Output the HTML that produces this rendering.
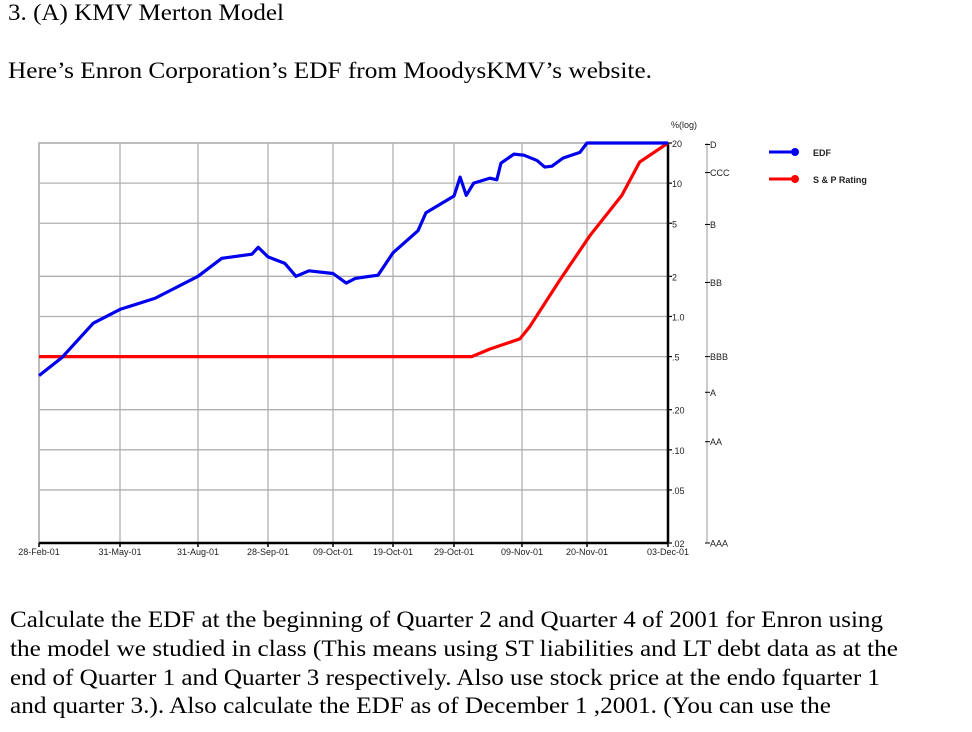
<!DOCTYPE html>
<html><head><meta charset="utf-8"><style>
body{margin:0;background:#fff}
svg{display:block}
.t{font-family:"Liberation Serif",serif;font-size:23px;fill:#000}
.s{font-family:"Liberation Sans",sans-serif;font-size:9px;fill:#222}
</style></head><body>
<svg id="root" width="972" height="732" viewBox="0 0 972 732">
<text class="t" x="8" y="20" textLength="276" lengthAdjust="spacingAndGlyphs">3. (A) KMV Merton Model</text>
<text class="t" x="8" y="78" font-size="24" textLength="644" lengthAdjust="spacingAndGlyphs">Here’s Enron Corporation’s EDF from MoodysKMV’s website.</text>
<g id="chart"></g>
<text class="t" x="10" y="627" textLength="873" lengthAdjust="spacingAndGlyphs">Calculate the EDF at the beginning of Quarter 2 and Quarter 4 of 2001 for Enron using</text>
<text class="t" x="10" y="656" textLength="888" lengthAdjust="spacingAndGlyphs">the model we studied in class (This means using ST liabilities and LT debt  data as at the</text>
<text class="t" x="10" y="685" textLength="870" lengthAdjust="spacingAndGlyphs">end of Quarter 1 and Quarter 3 respectively. Also use stock price at the endo fquarter 1</text>
<text class="t" x="10" y="713" textLength="821" lengthAdjust="spacingAndGlyphs">and quarter 3.). Also calculate the EDF as of December 1 ,2001. (You can use the</text>
</svg>
<script>
const xLabels = ["28-Feb-01","31-May-01","31-Aug-01","28-Sep-01","09-Oct-01","19-Oct-01","29-Oct-01","09-Nov-01","20-Nov-01","03-Dec-01"];
const yTicks = [20,10,5,2,1.0,0.5,0.2,0.1,0.05,0.02];
const yTickLabels = ["20","10","5","2","1.0",".5",".20",".10",".05",".02"];
const ratingLabels = ["D","CCC","B","BB","BBB","A","AA","AAA"];
const ratingValues = [19.5,12,4.9,1.8,0.5,0.27,0.115,0.02];
const edfX = [0,0.28,0.67,1,1.45,2,2.34,2.77,2.86,3,3.26,3.43,3.63,4,4.22,4.37,4.75,5,5.41,5.54,6,6.09,6.18,6.29,6.53,6.63,6.69,6.88,7.03,7.23,7.35,7.46,7.63,7.89,8,9];
const edfY = [0.36,0.49,0.89,1.13,1.37,2.0,2.73,2.93,3.3,2.8,2.5,2.0,2.2,2.1,1.78,1.93,2.04,3.0,4.4,6.0,8.0,11.1,8.1,10,10.9,10.6,14.1,16.5,16.2,14.8,13.2,13.4,15.4,17,20,20];
const spX = [0,6.26,6.53,6.97,7.12,7.58,8.04,8.43,8.65,9];
const spY = [0.5,0.5,0.57,0.68,0.84,1.87,4.07,8.1,14.4,20];

const NS="http://www.w3.org/2000/svg";
const g=document.getElementById('chart');
const L=39,R=668,T=143,B=543;
const tickPx=[39,120,198,268,333,393,454,522,587,668]; // layout of category ticks
function xs(i){const k=Math.min(Math.floor(i),tickPx.length-2);return tickPx[k]+(tickPx[k+1]-tickPx[k])*(i-k);}
function ys(v){return T+(B-T)*Math.log10(20/v)/Math.log10(1000);}
function mk(tag,attrs,parent){const e=document.createElementNS(NS,tag);for(const k in attrs)e.setAttribute(k,attrs[k]);(parent||g).appendChild(e);return e;}

mk('rect',{x:L,y:T,width:R-L,height:B-T,fill:'#fff',stroke:'#aaa','stroke-width':1.5});
xLabels.forEach((lab,i)=>{
  const x=xs(i);
  const l=mk('line',{x1:x,y1:T,x2:x,y2:B,stroke:'#b0b0b0','stroke-width':1.3});
  
  
  mk('line',{x1:x,y1:B,x2:x,y2:B+4,stroke:'#000','stroke-width':1.5});
  const t=mk('text',{x:x,y:B+12,'text-anchor':'middle',class:'s'});
  t.textContent=lab;
  
  
});
yTicks.forEach((v,i)=>{
  const y=ys(v);
  const l=mk('line',{x1:L,y1:y,x2:R,y2:y,stroke:'#b0b0b0','stroke-width':1.3});
  
  
  mk('line',{x1:R,y1:y,x2:R+4,y2:y,stroke:'#000','stroke-width':1.2});
  const t=mk('text',{x:R+4,y:y+4,class:'s','font-size':10});
  t.textContent=yTickLabels[i];
  
  
});
mk('line',{x1:L,y1:B,x2:R,y2:B,stroke:'#000','stroke-width':2.5});
mk('line',{x1:R,y1:T,x2:R,y2:B,stroke:'#000','stroke-width':2.5});
const yt=mk('text',{x:671,y:128,class:'s'});yt.textContent='%(log)';


// rating axis
mk('line',{x1:707,y1:T,x2:707,y2:B,stroke:'#999','stroke-width':1});
ratingLabels.forEach((r,i)=>{
  const y=ys(ratingValues[i]);
  mk('line',{x1:705,y1:y,x2:710,y2:y,stroke:'#000','stroke-width':1});
  const t=mk('text',{x:710,y:y+3.5,class:'s'});t.textContent=r;
  
  
});
function series(xa,ya,color,name){
  const p=mk('polyline',{points:xa.map((x,i)=>xs(x)+','+ys(ya[i])).join(' '),fill:'none',stroke:color,'stroke-width':3.2,'stroke-linejoin':'round'});
  
  
}
series(spX,spY,'#ff0000','sp-rating-line');
series(edfX,edfY,'#0000ee','edf-line');
// legend
[['EDF','#0000ee',152],['S & P Rating','#ff0000',179]].forEach(([n,c,y])=>{
  mk('line',{x1:769,y1:y,x2:793,y2:y,stroke:c,'stroke-width':3});
  mk('circle',{cx:795,cy:y,r:4,fill:c});
  const t=mk('text',{x:813,y:y+4,class:'s','font-weight':'bold',fill:'#1a2a7a','font-size':10});
  t.textContent=n;
  
  
});
</script>
</body></html>
